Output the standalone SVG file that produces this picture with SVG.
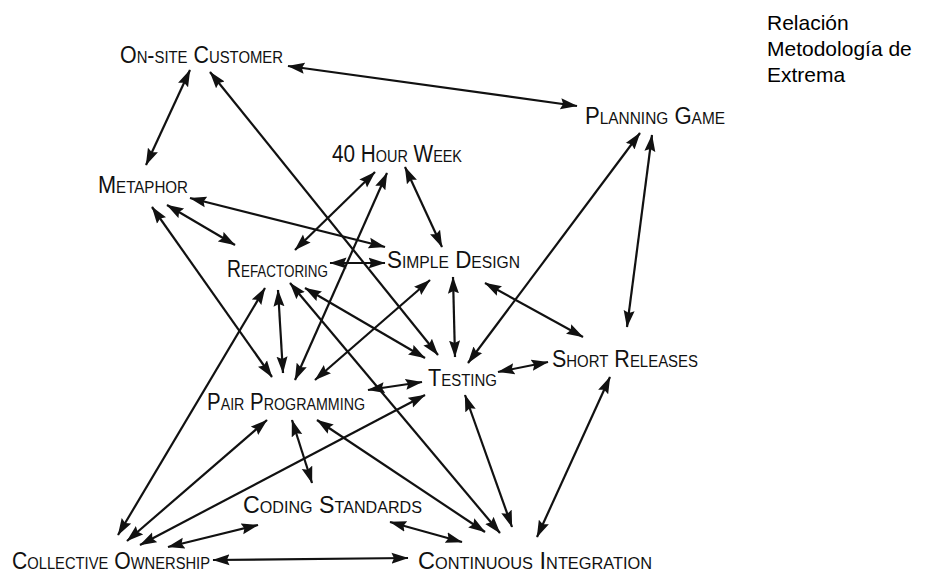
<svg xmlns="http://www.w3.org/2000/svg" width="930" height="573" viewBox="0 0 930 573">
  <style>
    .lbl { font-family: "Liberation Sans", Arial, sans-serif; font-size: 23px; font-variant: small-caps; fill: #111; }
    .title { font-family: "Liberation Sans", Arial, sans-serif; font-size: 21px; fill: #000; }
    .edge { stroke: #111; stroke-width: 2.2; fill: none; marker-start: url(#head); marker-end: url(#head); }
  </style>
  <defs>
    <marker id="head" markerUnits="userSpaceOnUse" markerWidth="18" markerHeight="12" refX="16.5" refY="6" orient="auto-start-reverse">
      <path d="M0,0.5 L17,6 L0,11.5 L2.5,6 Z" fill="#111"/>
    </marker>
  </defs>
  <rect width="930" height="573" fill="#fff"/>

  <!-- caption -->
  <g id="caption">
    <text class="title" x="767" y="30">Relación</text>
    <text class="title" x="767" y="56">Metodología de</text>
    <text class="title" x="767" y="82">Extrema</text>
  </g>

  <!-- practices -->
  <g id="onsite-customer"><text class="lbl" x="120" y="63" textLength="163" lengthAdjust="spacingAndGlyphs">On-site Customer</text></g>
  <g id="planning-game"><text class="lbl" x="585" y="124" textLength="140" lengthAdjust="spacingAndGlyphs">Planning Game</text></g>
  <g id="forty-hour-week"><text class="lbl" x="332" y="162" textLength="130" lengthAdjust="spacingAndGlyphs">40 Hour Week</text></g>
  <g id="metaphor"><text class="lbl" x="98" y="193" textLength="90" lengthAdjust="spacingAndGlyphs">Metaphor</text></g>
  <g id="refactoring"><text class="lbl" x="227" y="277" textLength="101" lengthAdjust="spacingAndGlyphs">Refactoring</text></g>
  <g id="simple-design"><text class="lbl" x="387" y="268" textLength="133" lengthAdjust="spacingAndGlyphs">Simple Design</text></g>
  <g id="short-releases"><text class="lbl" x="552" y="367" textLength="146" lengthAdjust="spacingAndGlyphs">Short Releases</text></g>
  <g id="testing"><text class="lbl" x="428" y="386" textLength="69" lengthAdjust="spacingAndGlyphs">Testing</text></g>
  <g id="pair-programming"><text class="lbl" x="207" y="410" textLength="158" lengthAdjust="spacingAndGlyphs">Pair Programming</text></g>
  <g id="coding-standards"><text class="lbl" x="243" y="513" textLength="179" lengthAdjust="spacingAndGlyphs">Coding Standards</text></g>
  <g id="collective-ownership"><text class="lbl" x="12" y="569" textLength="198" lengthAdjust="spacingAndGlyphs">Collective Ownership</text></g>
  <g id="continuous-integration"><text class="lbl" x="418" y="569" textLength="234" lengthAdjust="spacingAndGlyphs">Continuous Integration</text></g>

  <!-- relations (all two-way) -->
  <g id="connectors">
    <line class="edge" x1="288" y1="66" x2="577" y2="106"/>
    <line class="edge" x1="190" y1="70" x2="146" y2="165"/>
    <line class="edge" x1="210" y1="72" x2="438" y2="355"/>
    <line class="edge" x1="640" y1="133" x2="468" y2="363"/>
    <line class="edge" x1="652" y1="135" x2="627" y2="327"/>
    <line class="edge" x1="375" y1="172" x2="295" y2="250"/>
    <line class="edge" x1="387" y1="173" x2="295" y2="380"/>
    <line class="edge" x1="405" y1="167" x2="442" y2="247"/>
    <line class="edge" x1="190" y1="198" x2="385" y2="247"/>
    <line class="edge" x1="167" y1="205" x2="235" y2="245"/>
    <line class="edge" x1="152" y1="207" x2="272" y2="377"/>
    <line class="edge" x1="330" y1="263" x2="385" y2="263"/>
    <line class="edge" x1="278" y1="290" x2="283" y2="373"/>
    <line class="edge" x1="265" y1="288" x2="118" y2="535"/>
    <line class="edge" x1="305" y1="288" x2="425" y2="358"/>
    <line class="edge" x1="290" y1="283" x2="500" y2="533"/>
    <line class="edge" x1="430" y1="280" x2="315" y2="380"/>
    <line class="edge" x1="453" y1="277" x2="455" y2="357"/>
    <line class="edge" x1="485" y1="283" x2="583" y2="337"/>
    <line class="edge" x1="498" y1="372" x2="548" y2="362"/>
    <line class="edge" x1="422" y1="382" x2="368" y2="390"/>
    <line class="edge" x1="425" y1="395" x2="140" y2="545"/>
    <line class="edge" x1="465" y1="395" x2="512" y2="527"/>
    <line class="edge" x1="610" y1="377" x2="537" y2="537"/>
    <line class="edge" x1="267" y1="420" x2="127" y2="541"/>
    <line class="edge" x1="292" y1="420" x2="312" y2="483"/>
    <line class="edge" x1="317" y1="420" x2="485" y2="532"/>
    <line class="edge" x1="258" y1="525" x2="168" y2="547"/>
    <line class="edge" x1="390" y1="522" x2="462" y2="542"/>
    <line class="edge" x1="213" y1="560" x2="408" y2="558"/>
  </g>
</svg>
